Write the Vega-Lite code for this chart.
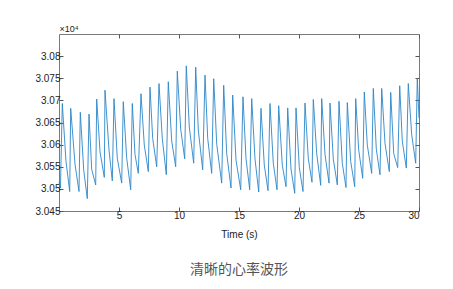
{
  "$schema": "https://vega.github.io/schema/vega-lite/v6.json",
  "width": 360,
  "height": 177,
  "autosize": "none",
  "padding": {"left": 59, "top": 34, "right": 34, "bottom": 78},
  "background": "white",
  "config": {
    "font": "Liberation Sans",
    "view": {"stroke": "#7a7a7a", "strokeWidth": 1},
    "axis": {
      "grid": false,
      "domain": false,
      "tickColor": "#555555",
      "tickSize": -4,
      "labelFontSize": 10,
      "labelColor": "#222222",
      "labelFont": "Liberation Sans",
      "titleFont": "Liberation Sans",
      "titleColor": "#222222",
      "titleFontSize": 10,
      "titleFontWeight": "normal"
    }
  },
  "title": {
    "text": "清晰的心率波形",
    "orient": "bottom",
    "anchor": "middle",
    "font": "Noto Sans CJK SC",
    "fontSize": 14,
    "fontWeight": "normal",
    "color": "#555555",
    "offset": 24
  },
  "data": {
    "values": [
      {"t": 0, "v": 3.0515}, {"t": 0.12, "v": 3.0502},
      {"t": 0.275, "v": 3.0693}, {"t": 0.583, "v": 3.0562}, {"t": 0.892, "v": 3.0494},
      {"t": 0.975, "v": 3.0682}, {"t": 1.333, "v": 3.0556}, {"t": 1.667, "v": 3.0494},
      {"t": 1.775, "v": 3.0673}, {"t": 2.058, "v": 3.0543}, {"t": 2.358, "v": 3.0478},
      {"t": 2.5, "v": 3.0669}, {"t": 2.725, "v": 3.0544}, {"t": 3.058, "v": 3.0509},
      {"t": 3.142, "v": 3.0703}, {"t": 3.417, "v": 3.0584}, {"t": 3.775, "v": 3.0526},
      {"t": 3.833, "v": 3.0723}, {"t": 4.167, "v": 3.0588}, {"t": 4.442, "v": 3.0518},
      {"t": 4.583, "v": 3.0704}, {"t": 4.858, "v": 3.0569}, {"t": 5.225, "v": 3.0513},
      {"t": 5.358, "v": 3.0697}, {"t": 5.642, "v": 3.0569}, {"t": 5.975, "v": 3.0498},
      {"t": 6.108, "v": 3.0693}, {"t": 6.333, "v": 3.0578}, {"t": 6.608, "v": 3.0535},
      {"t": 6.833, "v": 3.0715}, {"t": 7.108, "v": 3.0599}, {"t": 7.442, "v": 3.0539},
      {"t": 7.583, "v": 3.073}, {"t": 7.808, "v": 3.0614}, {"t": 8.142, "v": 3.055},
      {"t": 8.333, "v": 3.0738}, {"t": 8.608, "v": 3.0614}, {"t": 8.942, "v": 3.0532},
      {"t": 9.108, "v": 3.0742}, {"t": 9.392, "v": 3.0608}, {"t": 9.725, "v": 3.055},
      {"t": 9.858, "v": 3.0766}, {"t": 10.142, "v": 3.0635}, {"t": 10.475, "v": 3.0568},
      {"t": 10.608, "v": 3.0778}, {"t": 10.858, "v": 3.064}, {"t": 11.225, "v": 3.0558},
      {"t": 11.392, "v": 3.0775}, {"t": 11.608, "v": 3.0633}, {"t": 11.975, "v": 3.0543},
      {"t": 12.167, "v": 3.0757}, {"t": 12.392, "v": 3.0614}, {"t": 12.725, "v": 3.0535},
      {"t": 12.892, "v": 3.0749}, {"t": 13.142, "v": 3.0601}, {"t": 13.558, "v": 3.0513},
      {"t": 13.725, "v": 3.0734}, {"t": 13.975, "v": 3.058}, {"t": 14.333, "v": 3.0502},
      {"t": 14.475, "v": 3.0712}, {"t": 14.75, "v": 3.0565}, {"t": 15.142, "v": 3.0498},
      {"t": 15.333, "v": 3.0708}, {"t": 15.583, "v": 3.0569}, {"t": 15.892, "v": 3.0498},
      {"t": 16.058, "v": 3.0704}, {"t": 16.333, "v": 3.0568}, {"t": 16.642, "v": 3.0493},
      {"t": 16.833, "v": 3.0682}, {"t": 17.108, "v": 3.0554}, {"t": 17.417, "v": 3.0496},
      {"t": 17.583, "v": 3.0693}, {"t": 17.858, "v": 3.0558}, {"t": 18.167, "v": 3.0498},
      {"t": 18.308, "v": 3.0688}, {"t": 18.608, "v": 3.0554}, {"t": 18.917, "v": 3.0505},
      {"t": 19.058, "v": 3.0683}, {"t": 19.333, "v": 3.0545}, {"t": 19.642, "v": 3.049},
      {"t": 19.75, "v": 3.0683}, {"t": 20.025, "v": 3.0548}, {"t": 20.333, "v": 3.0494},
      {"t": 20.5, "v": 3.0694}, {"t": 20.775, "v": 3.0568}, {"t": 21.083, "v": 3.0515},
      {"t": 21.192, "v": 3.0702}, {"t": 21.475, "v": 3.058}, {"t": 21.808, "v": 3.0508},
      {"t": 21.892, "v": 3.0704}, {"t": 22.167, "v": 3.0578}, {"t": 22.5, "v": 3.0513},
      {"t": 22.583, "v": 3.0694}, {"t": 22.858, "v": 3.0568}, {"t": 23.192, "v": 3.0509},
      {"t": 23.333, "v": 3.0698}, {"t": 23.608, "v": 3.0558}, {"t": 23.917, "v": 3.0503},
      {"t": 24.025, "v": 3.0695}, {"t": 24.308, "v": 3.0562}, {"t": 24.642, "v": 3.0505},
      {"t": 24.725, "v": 3.0704}, {"t": 24.975, "v": 3.0588}, {"t": 25.308, "v": 3.0524},
      {"t": 25.442, "v": 3.0719}, {"t": 25.692, "v": 3.0599}, {"t": 26.058, "v": 3.0535},
      {"t": 26.192, "v": 3.0727}, {"t": 26.442, "v": 3.059}, {"t": 26.75, "v": 3.0532},
      {"t": 26.892, "v": 3.0727}, {"t": 27.167, "v": 3.0603}, {"t": 27.525, "v": 3.0539},
      {"t": 27.642, "v": 3.0718}, {"t": 27.892, "v": 3.058}, {"t": 28.225, "v": 3.0548},
      {"t": 28.392, "v": 3.0733}, {"t": 28.608, "v": 3.0608}, {"t": 28.942, "v": 3.0547},
      {"t": 29.108, "v": 3.0738}, {"t": 29.392, "v": 3.0622}, {"t": 29.725, "v": 3.0558},
      {"t": 29.858, "v": 3.075}, {"t": 30, "v": 3.066}
    ]
  },
  "layer": [
    {
      "mark": {"type": "line", "color": "#2b86c8", "strokeWidth": 0.9},
      "encoding": {
        "x": {
          "field": "t", "type": "quantitative",
          "scale": {"domain": [0, 30], "nice": false, "zero": false},
          "axis": {"orient": "bottom", "values": [5, 10, 15, 20, 25, 30], "format": "d", "title": "Time (s)", "labelPadding": 3, "titlePadding": 9}
        },
        "y": {
          "field": "v", "type": "quantitative",
          "scale": {"domain": [3.045, 3.085], "nice": false, "zero": false},
          "axis": {
            "orient": "left",
            "values": [3.045, 3.05, 3.055, 3.06, 3.065, 3.07, 3.075, 3.08],
            "format": "~g",
            "labelPadding": 3,
            "title": "×10⁴",
            "titleAngle": 0,
            "titleAlign": "left",
            "titleBaseline": "bottom",
            "titleX": 0,
            "titleY": -1,
            "titleFontSize": 9
          }
        }
      }
    },
    {
      "mark": {"type": "line", "opacity": 0},
      "encoding": {
        "x": {"field": "t", "type": "quantitative", "axis": {"orient": "top", "values": [5, 10, 15, 20, 25, 30], "labels": false, "title": null}},
        "y": {"field": "v", "type": "quantitative", "axis": {"orient": "right", "values": [3.045, 3.05, 3.055, 3.06, 3.065, 3.07, 3.075, 3.08], "labels": false, "title": null}}
      }
    }
  ],
  "resolve": {"axis": {"x": "independent", "y": "independent"}}
}
